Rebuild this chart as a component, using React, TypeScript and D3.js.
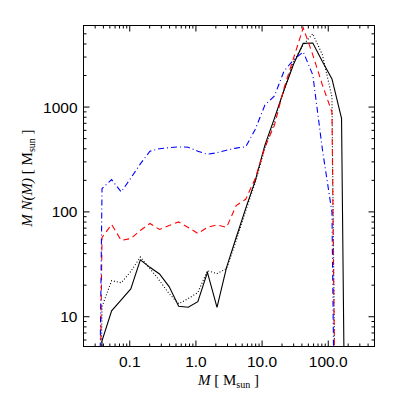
import { useEffect, useRef } from 'react';
import * as d3 from 'd3';

// bin centres (M_sun)
const masses = [
  0.0273, 0.0381, 0.0532, 0.0743, 0.1037, 0.1446, 0.2018, 0.2818, 0.3934, 0.549,
  0.766, 1.069, 1.493, 2.083, 2.906, 4.056, 5.661, 7.902, 11.03, 15.39,
  21.48, 29.98, 41.85, 58.41, 81.5, 113.8, 158.8, 221.6,
];

// M N(M) for each run (0 = empty bin)
const solid = [
  0, 5.9, 11.4, 14.5, 18.4, 34.9, 29.6, 25.6, 19.4, 12.6,
  12.3, 13.9, 26.5, 12.3, 29.6, 57, 108, 200, 433, 785,
  1455, 2575, 4050, 4090, 2725, 1855, 780, 0,
];
const dotted = [
  0, 12.5, 22.1, 21.1, 27, 37.1, 28.8, 22.1, 16.6, 13.3,
  14.9, 17, 27.5, 25.8, 28.8, 53, 103, 191, 405, 751,
  1455, 2700, 3920, 5000, 3150, 1247, 0, 0,
];
const dashed = [
  0, 57, 75.9, 53.4, 55.7, 66.5, 77.6, 68, 74.3, 80.2,
  71.1, 62.3, 71.1, 75.2, 71.1, 115, 132, 209, 414, 673,
  1520, 2945, 5700, 3150, 1625, 896, 0, 0,
];
const dashDot = [
  0, 167, 203, 155, 210, 287, 379, 401, 410, 417,
  414, 379, 355, 367, 388, 406, 418, 615, 1045, 1275,
  2210, 2820, 3360, 2025, 396, 99, 0, 0,
];

const xMajor = [0.1, 1, 10, 100];
const xTickLabels = ['0.1', '1.0', '10.0', '100.0'];
const yMajor = [10, 100, 1000];
const yTickLabels = ['10', '100', '1000'];

export default function App() {
  const svgRef = useRef<SVGSVGElement>(null);

  useEffect(() => {
    const width = 399;
    const height = 399;
    const margin = { top: 25, right: 25, bottom: 53, left: 83 };
    const innerWidth = width - margin.left - margin.right;
    const innerHeight = height - margin.top - margin.bottom;

    const svg = d3.select(svgRef.current);
    svg.selectAll('*').remove();
    svg.attr('width', width).attr('height', height);

    const g = svg
      .append('g')
      .attr('transform', `translate(${margin.left + 0.5},${margin.top + 0.5})`);

    const x = d3.scaleLog().domain([0.02, 500]).range([0, innerWidth]);
    const y = d3.scaleLog().domain([5.2, 6000]).range([innerHeight, 0]);

    const isMajor = (v: number) => Math.abs(Math.log10(v) - Math.round(Math.log10(v))) < 1e-6;
    const majorLen = 6;
    const minorLen = 3;

    // clip for the curves
    svg
      .append('defs')
      .append('clipPath')
      .attr('id', 'plot-clip')
      .append('rect')
      .attr('width', innerWidth)
      .attr('height', innerHeight);

    const plot = g.append('g').attr('clip-path', 'url(#plot-clip)');

    const line = d3
      .line<number>()
      .x((_, i) => x(masses[i]))
      .y((d) => y(Math.max(d, 1e-6)));

    const series = [
      { values: solid, color: '#000000', dash: null },
      { values: dotted, color: '#000000', dash: '1,2' },
      { values: dashed, color: '#ff0000', dash: '6,4' },
      { values: dashDot, color: '#0000ff', dash: '6,3,1,3' },
    ];

    series.forEach((s) => {
      plot
        .append('path')
        .datum(s.values)
        .attr('fill', 'none')
        .attr('stroke', s.color)
        .attr('stroke-width', 1.1)
        .attr('stroke-dasharray', s.dash)
        .attr('d', line);
    });

    // frame
    g.append('rect')
      .attr('width', innerWidth)
      .attr('height', innerHeight)
      .attr('fill', 'none')
      .attr('stroke', '#000')
      .attr('stroke-width', 1);

    // x ticks, bottom and top, pointing inward
    const xt = x.ticks();
    g.selectAll('.xb')
      .data(xt)
      .enter()
      .append('line')
      .attr('x1', (d) => x(d))
      .attr('x2', (d) => x(d))
      .attr('y1', innerHeight)
      .attr('y2', (d) => innerHeight - (isMajor(d) ? majorLen : minorLen))
      .attr('stroke', '#000');
    g.selectAll('.xt')
      .data(xt)
      .enter()
      .append('line')
      .attr('x1', (d) => x(d))
      .attr('x2', (d) => x(d))
      .attr('y1', 0)
      .attr('y2', (d) => (isMajor(d) ? majorLen : minorLen))
      .attr('stroke', '#000');

    // y ticks, left and right
    const yt = y.ticks();
    g.selectAll('.yl')
      .data(yt)
      .enter()
      .append('line')
      .attr('y1', (d) => y(d))
      .attr('y2', (d) => y(d))
      .attr('x1', 0)
      .attr('x2', (d) => (isMajor(d) ? majorLen : minorLen))
      .attr('stroke', '#000');
    g.selectAll('.yr')
      .data(yt)
      .enter()
      .append('line')
      .attr('y1', (d) => y(d))
      .attr('y2', (d) => y(d))
      .attr('x1', innerWidth)
      .attr('x2', (d) => innerWidth - (isMajor(d) ? majorLen : minorLen))
      .attr('stroke', '#000');

    const labelFont = "'Liberation Sans', Arial, Helvetica, sans-serif";

    g.selectAll('.xlab')
      .data(xMajor)
      .enter()
      .append('text')
      .attr('x', (d) => x(d))
      .attr('y', innerHeight + 20)
      .attr('text-anchor', 'middle')
      .style('font-family', labelFont)
      .style('font-size', '15.5px')
      .text((_, i) => xTickLabels[i]);

    g.selectAll('.ylab')
      .data(yMajor)
      .enter()
      .append('text')
      .attr('x', -6)
      .attr('y', (d) => y(d))
      .attr('dy', '0.36em')
      .attr('text-anchor', 'end')
      .style('font-family', labelFont)
      .style('font-size', '15.5px')
      .text((_, i) => yTickLabels[i]);

    const titleFont = "'Liberation Serif', 'Times New Roman', serif";

    // x title: M [ M_sun ]
    const xt1 = svg
      .append('text')
      .attr('x', margin.left + innerWidth / 2)
      .attr('y', 385)
      .attr('text-anchor', 'middle')
      .style('font-family', titleFont)
      .style('font-size', '15px');
    xt1.append('tspan').style('font-style', 'italic').text('M');
    xt1.append('tspan').text(' [ M');
    xt1.append('tspan').attr('dy', 3).style('font-size', '10px').text('sun');
    xt1.append('tspan').attr('dy', -3).text(' ]');

    // y title: M N(M) [ M_sun ]
    const yt1 = svg
      .append('text')
      .attr('transform', 'translate(32,178) rotate(-90)')
      .attr('text-anchor', 'middle')
      .style('font-family', titleFont)
      .style('font-size', '15px');
    yt1.append('tspan').style('font-style', 'italic').text('M N(M)');
    yt1.append('tspan').text(' [ M');
    yt1.append('tspan').attr('dy', 3).style('font-size', '10px').text('sun');
    yt1.append('tspan').attr('dy', -3).text(' ]');
  }, []);

  return (
    <div style={{ position: 'absolute', left: 0, top: 0 }}>
      <svg ref={svgRef}></svg>
    </div>
  );
}
